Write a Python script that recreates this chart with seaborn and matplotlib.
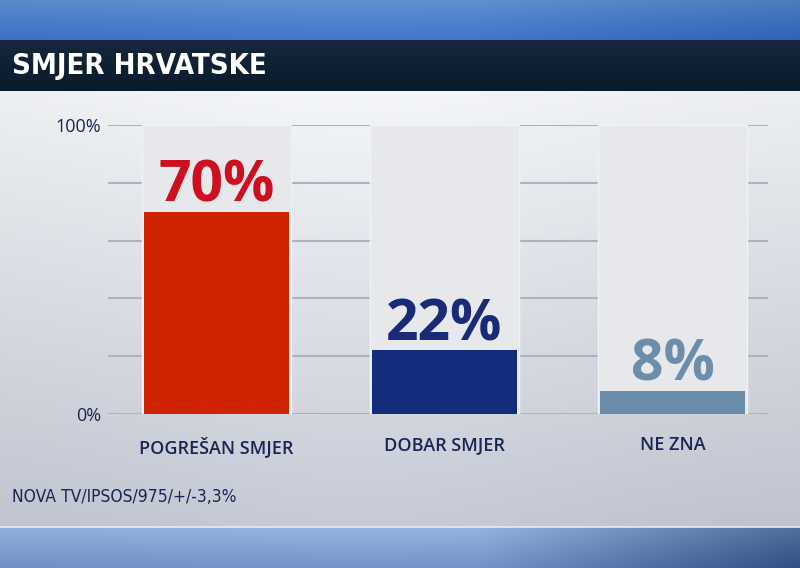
import numpy as np
import pandas as pd
import matplotlib
matplotlib.use("Agg")
import matplotlib.pyplot as plt
import seaborn as sns

# ---- data ----
categories = ["POGREŠAN SMJER", "DOBAR SMJER", "NE ZNA"]
values = [70, 22, 8]
bar_colors = ["#d02300", "#142c7c", "#6a8cab"]
label_colors = ["#cc1020", "#1a2a78", "#6d8eab"]
ytick_values = [0, 20, 40, 60, 80, 100]
ytick_labels = ["0%", "", "", "", "", "100%"]
title = "SMJER HRVATSKE"
source = "NOVA TV/IPSOS/975/+/-3,3%"

sns.set_theme(style="white")
plt.rcParams["font.family"] = ["Open Sans", "DejaVu Sans"]
NAVY = "#1a2553"

W, H = 800, 568
fig = plt.figure(figsize=(8, 5.68), dpi=100)

# ---- background ----
bg = fig.add_axes([0, 0, 1, 1], zorder=-10)
bg.set_xlim(0, W)
bg.set_ylim(H, 0)
bg.axis("off")

def grad_img(h, w, top, bottom, center_boost=0.0, right_dark=0.0):
    top = np.array(matplotlib.colors.to_rgb(top))
    bottom = np.array(matplotlib.colors.to_rgb(bottom))
    t = np.linspace(0, 1, h)[:, None, None]
    img = top * (1 - t) + bottom * t
    img = np.repeat(img, w, axis=1)
    xs = np.linspace(0, 1, w)[None, :, None]
    img = img + center_boost * np.exp(-((xs - 0.45) / 0.35) ** 2)
    img = img - right_dark * np.clip((xs - 0.6) / 0.4, 0, 1)
    return np.clip(img, 0, 1)

bg.imshow(grad_img(40, 200, "#5a88c8", "#3a70c2", center_boost=0.03, right_dark=0.05),
          extent=[0, W, 40, 0], aspect="auto", zorder=0)
bg.imshow(grad_img(51, 200, "#17283c", "#081a2c"),
          extent=[0, W, 91, 40], aspect="auto", zorder=0)
bg.imshow(grad_img(200, 200, "#eceef1", "#bfc3ce", center_boost=0.03),
          extent=[0, W, 527, 91], aspect="auto", zorder=0)
bg.imshow(grad_img(41, 200, "#8fb0d8", "#6f8fc4", center_boost=0.02, right_dark=0.25),
          extent=[0, W, H, 527], aspect="auto", zorder=0)
bg.axhline(527, color="#e8ecf2", lw=1.2, zorder=1)

fig.text(12 / W, 1 - 66 / H, title, color="white", fontsize=21, fontweight="bold",
         family="DejaVu Sans", fontstretch="condensed", va="center", ha="left")
fig.text(12 / W, 1 - 497 / H, source, color=NAVY, fontsize=12.5,
         family="DejaVu Sans", fontstretch="condensed", va="center", ha="left")

# ---- chart ----
ax = fig.add_axes([108 / W, 1 - 414 / H, 660 / W, 289 / H])
ax.patch.set_alpha(0)

df = pd.DataFrame({"cat": categories, "val": values})
df_bg = pd.DataFrame({"cat": categories, "val": [100] * len(categories)})

sns.barplot(data=df_bg, x="cat", y="val", color="#e6e8ec", saturation=1, width=0.65,
            edgecolor="#f1f2f5", linewidth=1.0, ax=ax, zorder=2)
sns.barplot(data=df, x="cat", y="val", hue="cat", palette=bar_colors, saturation=1,
            width=0.64, legend=False, ax=ax, zorder=3, linewidth=0)

for i, (v, c) in enumerate(zip(values, label_colors)):
    ax.text(i, v + 3.5, f"{v}%", ha="center", va="baseline", color=c,
            fontsize=41, fontweight="bold", zorder=4)

ax.set_xlim(-0.476, 2.419)
ax.set_ylim(0, 100)
ax.set_yticks(ytick_values)
ax.set_yticklabels(ytick_labels)
ax.yaxis.grid(True, color="#adb3be", lw=1.5, zorder=1)
ax.set_axisbelow(True)
for s in ax.spines.values():
    s.set_visible(False)
ax.tick_params(axis="y", length=0, pad=5, labelsize=13, labelcolor=NAVY)
ax.tick_params(axis="x", length=0, pad=16, labelsize=13, labelcolor=NAVY)
for lab in ax.get_xticklabels():
    lab.set_fontweight("semibold")
ax.set_xlabel("")
ax.set_ylabel("")

fig.savefig("out.png", dpi=100)
